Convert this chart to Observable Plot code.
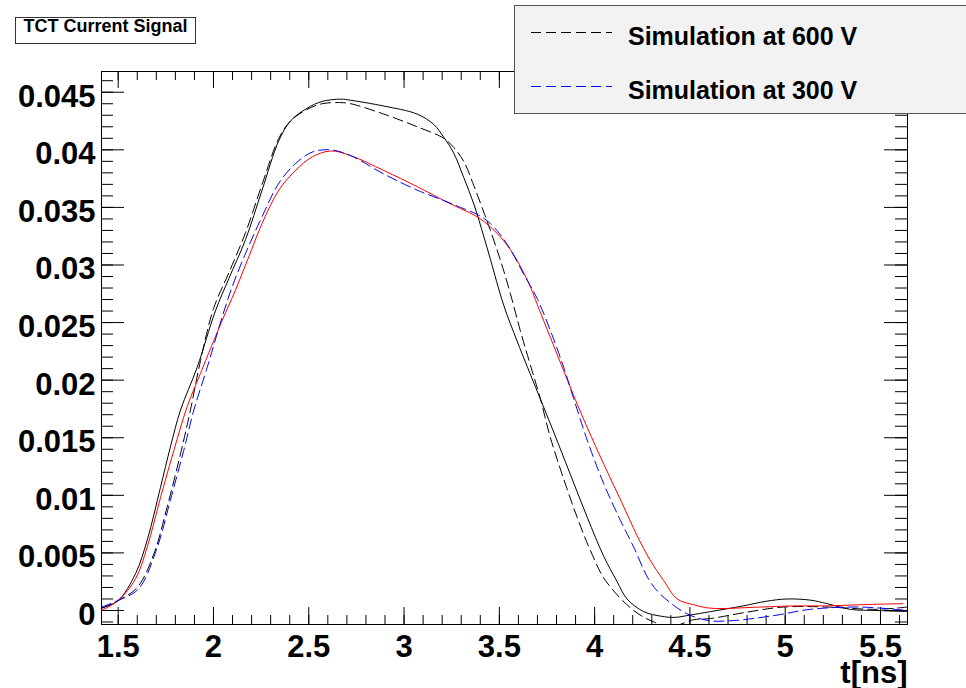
<!DOCTYPE html>
<html><head><meta charset="utf-8">
<script src="https://cdn.jsdelivr.net/npm/d3@7"></script>
<script src="https://cdn.jsdelivr.net/npm/@observablehq/plot@0.6"></script>
<style>
body{margin:0;background:#fff;}
#wrap{position:relative;width:966px;height:688px;overflow:hidden;font-family:"Liberation Sans",Arial,Helvetica,sans-serif;}
#title{position:absolute;left:15px;top:17px;width:181px;height:27px;border:1px solid #333;box-sizing:border-box;font-weight:bold;font-size:18px;line-height:17px;text-align:center;background:#fff;color:#000;}
#legend{position:absolute;left:514px;top:5px;}
</style>
</head><body>
<div id="wrap"><div id="chart"></div><div id="title">TCT Current Signal</div><div id="legend"></div></div>
<script>
// ---- data ----
const titleText = "TCT Current Signal";
const xLabel = "t[ns]";
const legendLabels = ["Simulation at 600 V", "Simulation at 300 V"];
const xTickValues = [1.5, 2, 2.5, 3, 3.5, 4, 4.5, 5, 5.5];
const xTickLabels = ["1.5", "2", "2.5", "3", "3.5", "4", "4.5", "5", "5.5"];
const yTickValues = [0, 0.005, 0.01, 0.015, 0.02, 0.025, 0.03, 0.035, 0.04, 0.045];
const yTickLabels = ["0", "0.005", "0.01", "0.015", "0.02", "0.025", "0.03", "0.035", "0.04", "0.045"];

// measured 600 V (black solid)
const tMeas600 = [1.413,1.5,1.591,1.652,1.722,1.774,1.827,1.914,2.01,2.08,2.168,2.255,2.343,2.404,2.49,2.57,2.668,2.721,2.894,3.069,3.156,3.208,3.261,3.313,3.366,3.418,3.453,3.523,3.593,3.646,3.707,3.785,3.873,3.961,4.048,4.118,4.17,4.258,4.35,4.42,4.5,4.607,4.78,4.9,5.01,5.132,5.218,5.342,5.482,5.64];
const iMeas600 = [0.0002,0.00087,0.0032,0.0061,0.0107,0.0142,0.0174,0.0211,0.0260,0.0288,0.0322,0.0365,0.0408,0.0425,0.0436,0.0442,0.0444,0.0443,0.0438,0.0431,0.0422,0.0411,0.0397,0.0376,0.0353,0.0325,0.0305,0.0265,0.0234,0.0212,0.0187,0.0155,0.0118,0.0081,0.0047,0.0025,0.0010,-0.0001,-0.0005,-0.0006,-0.0004,-0.0001,0.0004,0.0008,0.0010,0.0009,0.0006,0.0001,0.0000,-0.0001];

// simulation 600 V (black dashed)
const tSim600 = [1.413,1.5,1.6,1.687,1.757,1.827,1.879,1.932,2.0,2.08,2.168,2.255,2.343,2.404,2.49,2.57,2.668,2.721,2.894,3.069,3.208,3.261,3.313,3.366,3.418,3.453,3.506,3.558,3.61,3.663,3.715,3.768,3.838,3.908,3.978,4.057,4.205,4.311,4.4,4.52,4.607,4.78,4.99,5.22,5.48,5.64];
const iSim600 = [0.0002,0.00087,0.0020,0.0049,0.0090,0.0136,0.0174,0.0217,0.0262,0.0293,0.0328,0.0370,0.0410,0.0425,0.0435,0.0440,0.0441,0.0440,0.0431,0.0420,0.0410,0.0402,0.0390,0.0369,0.0346,0.0330,0.0304,0.0275,0.0243,0.0213,0.0184,0.0150,0.0114,0.0081,0.0052,0.0026,0.0000,-0.0010,-0.0014,-0.0008,-0.0007,-0.0002,0.0003,0.0003,0.0001,0.0003];

// measured 300 V (red solid)
const tMeas300 = [1.413,1.5,1.591,1.652,1.722,1.792,1.862,1.932,2.046,2.115,2.185,2.255,2.343,2.43,2.52,2.615,2.719,2.894,3.069,3.208,3.296,3.383,3.453,3.523,3.593,3.663,3.698,3.768,3.838,3.899,3.961,4.048,4.136,4.223,4.29,4.362,4.433,4.52,4.607,4.87,5.044,5.218,5.394,5.62];
const iMeas300 = [0.0000,0.00087,0.00275,0.0055,0.0098,0.0139,0.0177,0.0206,0.0252,0.0278,0.0307,0.0336,0.0365,0.0382,0.0394,0.0399,0.0395,0.0382,0.0368,0.0356,0.0349,0.0342,0.0333,0.0321,0.0304,0.0281,0.0266,0.0237,0.0208,0.0183,0.0159,0.0127,0.0096,0.0065,0.0044,0.0026,0.0010,0.0005,0.0002,0.0003,0.0004,0.0004,0.0005,0.0006];

// simulation 300 V (blue dashed)
const tSim300 = [1.413,1.5,1.608,1.705,1.774,1.844,1.897,1.967,2.046,2.098,2.168,2.255,2.343,2.43,2.518,2.615,2.719,2.894,3.069,3.208,3.296,3.383,3.453,3.541,3.628,3.698,3.768,3.838,3.89,3.961,4.048,4.136,4.205,4.284,4.346,4.486,4.607,4.7,4.78,4.957,5.132,5.394,5.64];
const iSim300 = [0.0003,0.00087,0.0019,0.0055,0.0096,0.0139,0.0174,0.0211,0.0255,0.0281,0.0310,0.0342,0.0371,0.0388,0.0398,0.0400,0.0395,0.0379,0.0365,0.0356,0.0350,0.0344,0.0336,0.0318,0.0292,0.0271,0.0243,0.0211,0.0184,0.0148,0.0110,0.0078,0.0055,0.0027,0.0014,-0.0003,-0.0009,-0.0009,-0.0008,-0.0004,0.0001,0.0003,0.0000];

const toRows = (ts, is) => ts.map((t, k) => ({t, i: is[k]}));
const meas600 = toRows(tMeas600, iMeas600);
const sim600 = toRows(tSim600, iSim600);
const meas300 = toRows(tMeas300, iMeas300);
const sim300 = toRows(tSim300, iSim300);

// ---- layout ----
const W = 966, H = 688, mL = 101, mR = 59, mT = 71, mB = 64;
const pw = W - mL - mR, ph = H - mT - mB;
const xDomain = [1.4124, 5.6417];
const yDomain = [-0.001216, 0.0468];
const xMinor = d3.range(15, 57).map(v => v / 10);
const yMinor = d3.range(-1, 47).map(v => v / 1000);
const font = '"Liberation Sans", Arial, Helvetica, sans-serif';
const dash = "10,5";

const chart = Plot.plot({
  width: W, height: H,
  marginLeft: mL, marginRight: mR, marginTop: mT, marginBottom: mB,
  style: {fontFamily: font, background: "white", color: "black"},
  x: {domain: xDomain, axis: null},
  y: {domain: yDomain, axis: null},
  marks: [
    // ticks: bottom & top (x), left & right (y)
    Plot.tickX(xMinor, {x: d => d, insetTop: ph - 9, stroke: "black"}),
    Plot.tickX(xTickValues, {x: d => d, insetTop: ph - 17, stroke: "black"}),
    Plot.tickX(xMinor, {x: d => d, insetBottom: ph - 9, stroke: "black"}),
    Plot.tickX(xTickValues, {x: d => d, insetBottom: ph - 17, stroke: "black"}),
    Plot.tickY(yMinor, {y: d => d, insetRight: pw - 12, stroke: "black"}),
    Plot.tickY(yTickValues, {y: d => d, insetRight: pw - 23, stroke: "black"}),
    Plot.tickY(yMinor, {y: d => d, insetLeft: pw - 12, stroke: "black"}),
    Plot.tickY(yTickValues, {y: d => d, insetLeft: pw - 23, stroke: "black"}),
    // curves
    Plot.line(meas600, {x: "t", y: "i", stroke: "black", strokeWidth: 1, curve: "catmull-rom", clip: true}),
    Plot.line(sim600, {x: "t", y: "i", stroke: "black", strokeWidth: 1, strokeDasharray: dash, curve: "catmull-rom", clip: true}),
    Plot.line(meas300, {x: "t", y: "i", stroke: "red", strokeWidth: 1, curve: "catmull-rom", clip: true}),
    Plot.line(sim300, {x: "t", y: "i", stroke: "blue", strokeWidth: 1, strokeDasharray: dash, curve: "catmull-rom", clip: true}),
    Plot.frame({stroke: "black", strokeWidth: 1}),
    // tick labels
    Plot.axisX({ticks: xTickValues, tickSize: 0, tickPadding: 10, fontSize: 31, fontWeight: "bold",
      tickFormat: d => xTickLabels[xTickValues.indexOf(d)], label: null}),
    Plot.axisY({ticks: yTickValues, tickSize: 0, tickPadding: 6, dy: 4.5, fontSize: 31, fontWeight: "bold",
      tickFormat: d => yTickLabels[yTickValues.indexOf(d)], label: null}),
    Plot.text([xLabel], {frameAnchor: "bottom-right", dy: 58, textAnchor: "end", lineAnchor: "bottom",
      fontSize: 31, fontWeight: "bold", fill: "black"})
  ]
});
document.getElementById("chart").appendChild(chart);
document.getElementById("title").textContent = titleText;

// legend
const leg = d3.select("#legend").append("svg").attr("width", 460).attr("height", 109);
leg.append("rect").attr("x", 0.5).attr("y", 0.5).attr("width", 470).attr("height", 108)
  .attr("fill", "#f2f2f2").attr("stroke", "#555");
const legColors = ["black", "blue"];
const legY = [27.5, 81.5];
legendLabels.forEach((lab, k) => {
  leg.append("line").attr("x1", 17).attr("x2", 98).attr("y1", legY[k]).attr("y2", legY[k])
    .attr("stroke", legColors[k]).attr("stroke-width", 1).attr("stroke-dasharray", dash);
  leg.append("text").attr("x", 114).attr("y", legY[k] + 12.5).text(lab)
    .attr("font-family", font).attr("font-size", 25).attr("font-weight", "bold").attr("fill", "black");
});
</script>
</body></html>
